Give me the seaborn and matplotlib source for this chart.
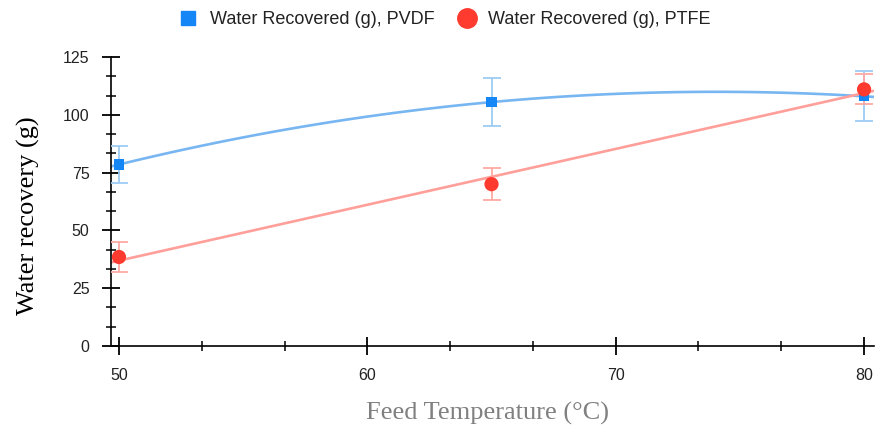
import numpy as np
import pandas as pd
import seaborn as sns
import matplotlib
matplotlib.use("Agg")
import matplotlib.pyplot as plt
from matplotlib.lines import Line2D
from matplotlib.ticker import MultipleLocator, AutoMinorLocator

# Data
temperature = [50, 65, 80]
pvdf_mean = [78.5, 105.5, 108.0]
pvdf_err = [7.8, 10.5, 10.8]
ptfe_mean = [38.5, 70.0, 111.0]
ptfe_err = [6.5, 6.8, 6.5]
series_labels = ["Water Recovered (g), PVDF", "Water Recovered (g), PTFE"]
x_label = "Feed Temperature (°C)"
y_label = "Water recovery (g)"

sns.set_theme(style="ticks")
plt.rcParams['font.family'] = ['Liberation Sans', 'DejaVu Sans']

df_pvdf = pd.DataFrame({"T": temperature, "W": pvdf_mean})
df_ptfe = pd.DataFrame({"T": temperature, "W": ptfe_mean})

W, H = 876, 428
fig = plt.figure(figsize=(W / 100, H / 100), dpi=100)
ax_left, ax_right, ax_top, ax_bottom = 111, 874, 57, 346
ax = fig.add_axes([ax_left / W, 1 - ax_bottom / H, (ax_right - ax_left) / W, (ax_bottom - ax_top) / H])
ax.set_xlim(49.68, 80.4)
ax.set_ylim(0, 125)

blue = "#1486f5"
blue_line = "#78b6f2"
blue_err = "#9ecbf5"
red = "#ff3b30"
red_line = "#ff9f99"
red_err = "#ffa9a3"

# fitted trend lines (quadratic for PVDF, linear for PTFE)
sns.regplot(data=df_pvdf, x="T", y="W", order=2, ci=None, truncate=False,
            scatter=False, ax=ax, line_kws=dict(color=blue_line, lw=1.9, zorder=2))
sns.regplot(data=df_ptfe, x="T", y="W", order=1, ci=None, truncate=False,
            scatter=False, ax=ax, line_kws=dict(color=red_line, lw=1.9, zorder=2))

ax.errorbar(temperature, pvdf_mean, yerr=pvdf_err, fmt="none", ecolor=blue_err,
            elinewidth=1.3, capsize=6.5, capthick=1.3, zorder=3)
ax.errorbar(temperature, ptfe_mean, yerr=ptfe_err, fmt="none", ecolor=red_err,
            elinewidth=1.3, capsize=6.5, capthick=1.3, zorder=3)

sns.scatterplot(data=df_pvdf, x="T", y="W", marker="s", s=55, color=blue,
                edgecolor="none", ax=ax, zorder=4)
sns.scatterplot(data=df_ptfe, x="T", y="W", marker="o", s=105, color=red,
                edgecolor="none", ax=ax, zorder=5)

ax.set_xlim(49.68, 80.4)
ax.set_ylim(0, 125)

sns.despine(ax=ax)
for s in ["left", "bottom"]:
    ax.spines[s].set_color("black")
    ax.spines[s].set_linewidth(1.2)

ax.xaxis.set_major_locator(MultipleLocator(10))
ax.xaxis.set_minor_locator(AutoMinorLocator(3))
ax.yaxis.set_major_locator(MultipleLocator(25))
ax.yaxis.set_minor_locator(AutoMinorLocator(3))
ax.tick_params(axis="both", which="major", direction="inout", length=13, width=1.3,
               color="black", labelsize=11.5, labelcolor="#222222", pad=9)
ax.tick_params(axis="both", which="minor", direction="inout", length=6.5, width=1.1,
               color="black")

ax.set_xlabel(x_label, family="Liberation Serif", fontsize=19, color="#808080")
ax.set_ylabel(y_label, family="Liberation Serif", fontsize=19, color="black")
ax.xaxis.label.set_va("center")
ax.yaxis.label.set_va("center")
ax.xaxis.set_label_coords((487.5 - ax_left) / (ax_right - ax_left), (ax_bottom - 413) / (ax_bottom - ax_top))
ax.yaxis.set_label_coords((28 - ax_left) / (ax_right - ax_left), (ax_bottom - 216) / (ax_bottom - ax_top))

handles = [
    Line2D([], [], marker="s", color=blue, linestyle="none", markersize=9.5),
    Line2D([], [], marker="o", color=red, linestyle="none", markersize=14),
]
fig.legend(handles, series_labels, loc="center", bbox_to_anchor=(444 / W, 1 - 20 / H),
           ncol=2, frameon=False, fontsize=13, handletextpad=0.6, columnspacing=1.2,
           handlelength=1.2, labelcolor="#222222")

fig.savefig("out.png", dpi=100)
